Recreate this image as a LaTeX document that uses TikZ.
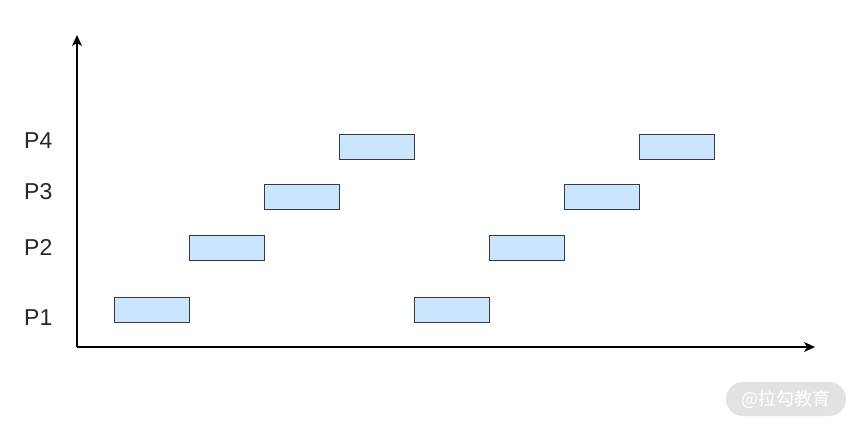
\documentclass[tikz,border=0pt]{standalone}
\usepackage{fontspec}
\setmainfont{Liberation Sans}
\newfontfamily\cjk{Noto Sans CJK SC}
\usetikzlibrary{arrows.meta}
\definecolor{boxfill}{HTML}{CCE5FF}
\definecolor{boxline}{HTML}{36393D}
\definecolor{wmfill}{HTML}{E2E2E2}
\begin{document}
\begin{tikzpicture}[x=1pt,y=-1pt,
  slot/.style={draw=boxline,fill=boxfill,line width=1.2pt,minimum width=75pt,minimum height=25pt,inner sep=0pt,anchor=north west},
  plabel/.style={font=\fontsize{23}{23}\selectfont,text=black!85,anchor=west,inner sep=0pt},
  axis/.style={line width=1.3pt,-{Stealth[length=11pt,width=10pt,inset=3pt]}}]
\useasboundingbox (0,0) rectangle (858,427);
\coordinate (o) at (77,347);
\coordinate (ytop) at (77,35);
\coordinate (xend) at (815,347);
\draw[axis] (o) -- (ytop);
\draw[axis] (o) -- (xend);
\node[plabel] (l4) at (24,141) {P4};
\node[plabel] (l3) at (24,192) {P3};
\node[plabel] (l2) at (24,247) {P2};
\node[plabel] (l1) at (24,318) {P1};
\node[slot] (a1) at (114,297) {};
\node[slot] (a2) at (189,235) {};
\node[slot] (a3) at (264,184) {};
\node[slot] (a4) at (339,134) {};
\node[slot] (b1) at (414,297) {};
\node[slot] (b2) at (489,235) {};
\node[slot] (b3) at (564,184) {};
\node[slot] (b4) at (639,134) {};
\node[fill=wmfill,rounded corners=17pt,minimum width=120pt,minimum height=34pt,inner sep=0pt,text=white,font=\cjk\fontsize{18}{18}\selectfont] (wm) at (786,399) {@拉勾教育};
\end{tikzpicture}
\end{document}
